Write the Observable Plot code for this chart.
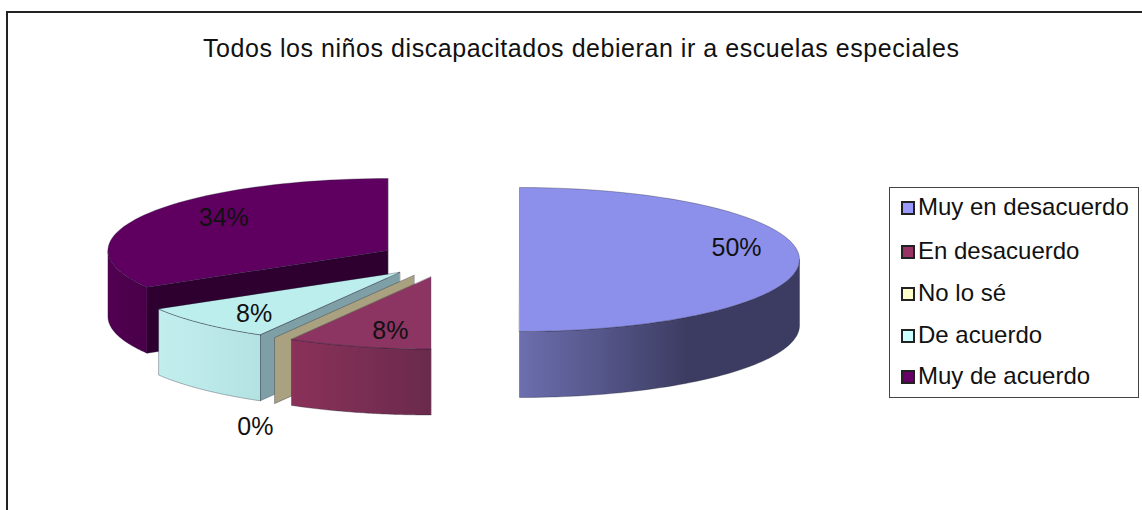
<!DOCTYPE html>
<html><head><meta charset="utf-8">
<script src="https://cdn.jsdelivr.net/npm/d3@7"></script>
<script src="https://cdn.jsdelivr.net/npm/@observablehq/plot@0.6"></script>
<style>
html,body{margin:0;padding:0;background:#fff;overflow:hidden}
#wrap{position:relative;width:1142px;height:510px;font-family:"Liberation Sans",Arial,sans-serif;color:#111}
#frame{position:absolute;left:6px;top:11px;width:1140px;height:510px;border-left:2px solid #222;border-top:2px solid #222}
#title{position:absolute;left:203px;top:34px;font-size:25px;white-space:nowrap;letter-spacing:.022em}
#legend{position:absolute;left:889px;top:187px;width:250px;height:211px;box-sizing:border-box;border:1.5px solid #444;background:#fff}
.row{position:absolute;left:0;height:24px;font-size:24px;line-height:24px;white-space:nowrap}
.sw{position:absolute;left:11px;top:6px;width:10px;height:10px;border:2px solid #222}
.lab{position:absolute;left:28px;top:0}
svg{position:absolute;left:0;top:0}
</style></head><body><div id="wrap"><div id="frame"></div><div id="title"></div><div id="legend"></div></div>
<script>
const titleText = "Todos los niños discapacitados debieran ir a escuelas especiales";
const categories = ["Muy en desacuerdo","En desacuerdo","No lo sé","De acuerdo","Muy de acuerdo"];
const shares = [50, 8.3, 0, 8.2, 33.5];
const legendColors = ["#9999ff","#993366","#ffffcc","#ccffff","#660066"];
const topColors = ["#8c90ea","#8c3462","#a9a17f","#bdeeee","#5f0060"];
const faceColors = ["#565888","#6e2a4e","#a9a17f","#7f9fa6","#2e0030"];
const sideStops = [["#6c6eae","#3c3c62"],["#8a3159","#6a2a4c"],["#a9a17f","#a9a17f"],["#c2eeee","#b4e2e2"],["#520052","#480048"]];
const labelRadius = [0.775, 0.563, 1.137, 0.74, 0.675];
const labelShift = [-12, 15, 81, 4, -8];

// pie geometry (3D projection of the exploded pie)
const cx = 448.6, cy = 259, rx = 280, ry = 72, depth = 66, explode = 70.4;
const tau = 2 * Math.PI;
let acc = 0;
const slices = shares.map((v, i) => {
  const a0 = acc / 100 * tau; acc += v; const a1 = acc / 100 * tau; const mid = (a0 + a1) / 2;
  return {i, v, a0, a1, mid, ax: cx + explode * Math.sin(mid), ay: cy - explode * (ry / rx) * Math.cos(mid)};
});
const rim = (s, a, dz = 0) => ({x: s.ax + rx * Math.sin(a), y: s.ay - ry * Math.cos(a) + dz});
const arc = (s, a0, a1, dz = 0) => d3.range(0, 61).map(k => rim(s, a0 + (a1 - a0) * k / 60, dz));
const topPoly = s => [{x: s.ax, y: s.ay}, ...arc(s, s.a0, s.a1)];
// outer wall only where the rim faces the viewer
const sidePoly = s => {
  const lo = Math.max(s.a0, Math.PI / 2), hi = Math.min(s.a1, 3 * Math.PI / 2);
  return hi > lo ? [...arc(s, lo, hi), ...arc(s, hi, lo, depth)] : null;
};
// the cut face at the slice's leading edge
const cutPoly = (s, a) => [{x: s.ax, y: s.ay}, rim(s, a), rim(s, a, depth), {x: s.ax, y: s.ay + depth}];

const poly = (data, fill) => Plot.line(data, {x: "x", y: "y", curve: "linear-closed", fill, stroke: "#1c1c30", strokeWidth: 0.6, strokeOpacity: 0.55});

const marks = [() => {
  const defs = d3.create("svg:defs");
  sideStops.forEach((st, i) => {
    const g = defs.append("linearGradient").attr("id", "side" + i).attr("x1", 0).attr("x2", 1).attr("y1", 0).attr("y2", 0);
    g.append("stop").attr("offset", "0%").attr("stop-color", st[0]);
    g.append("stop").attr("offset", i === 0 ? "60%" : "100%").attr("stop-color", st[1]);
  });
  return defs.node();
}];
// painter's order: back to front
[4, 3, 2, 1, 0].forEach(i => {
  const s = slices[i];
  if (i >= 2) marks.push(poly(cutPoly(s, s.a0), faceColors[i]));
  const sp = sidePoly(s);
  if (sp && s.v > 0) marks.push(poly(sp, `url(#side${i})`));
  if (s.v > 0) marks.push(poly(topPoly(s), topColors[i]));
});

const labels = slices.map((s, i) => ({
  x: s.ax + rx * labelRadius[i] * Math.sin(s.mid),
  y: s.ay - ry * labelRadius[i] * Math.cos(s.mid) + labelShift[i],
  t: Math.round(s.v) + "%"
}));
marks.push(Plot.text(labels, {x: "x", y: "y", text: "t", fontSize: 25, fill: "#111", fontFamily: "Liberation Sans"}));

const chart = Plot.plot({
  width: 1142, height: 510, margin: 0,
  x: {domain: [0, 1142], range: [0, 1142], axis: null},
  y: {domain: [0, 510], range: [0, 510], axis: null},
  style: {background: "transparent"},
  marks
});
const wrap = document.getElementById("wrap");
wrap.insertBefore(chart, document.getElementById("title"));
document.getElementById("title").textContent = titleText;
const rowsY = [7, 51, 93, 135, 176];
const legend = document.getElementById("legend");
categories.forEach((c, i) => {
  const r = document.createElement("div"); r.className = "row"; r.style.top = rowsY[i] + "px";
  const sw = document.createElement("span"); sw.className = "sw"; sw.style.background = legendColors[i];
  const l = document.createElement("span"); l.className = "lab"; l.textContent = c;
  r.append(sw, l); legend.append(r);
});
</script></body></html>
